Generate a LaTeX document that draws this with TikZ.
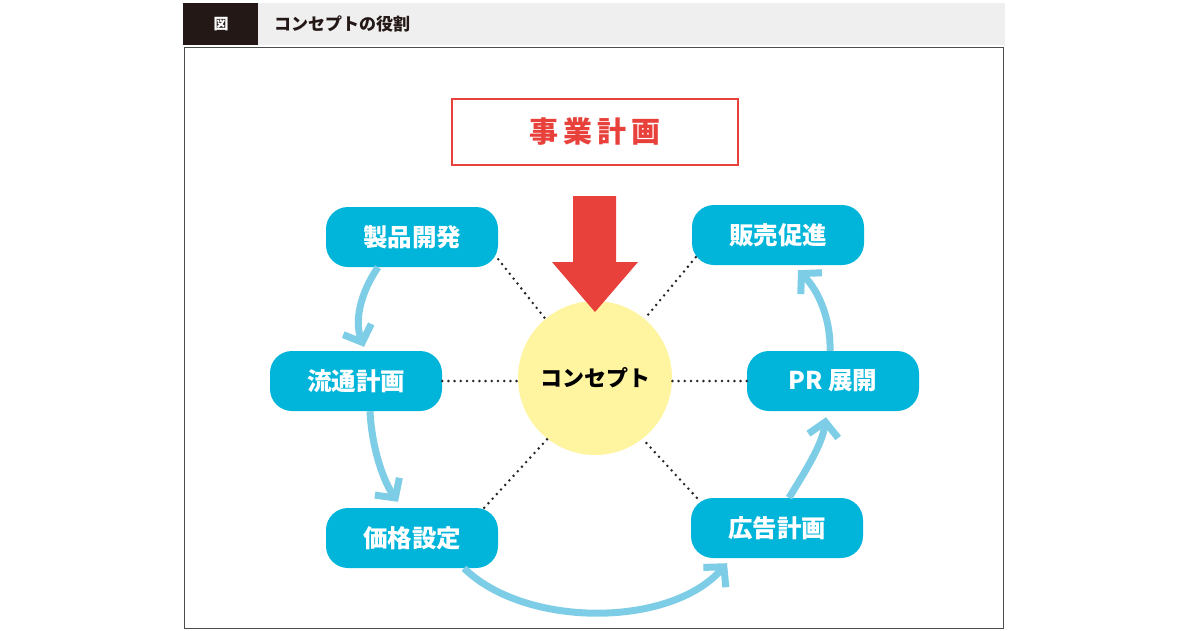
\documentclass[tikz,border=0pt]{standalone}
\usepackage{fontspec}
\newfontfamily\cjk{Noto Sans CJK JP}
\usetikzlibrary{arrows.meta}
\definecolor{cyanbox}{HTML}{00B5D9}
\definecolor{flowblue}{HTML}{7ECDE7}
\definecolor{concept}{HTML}{FFF5A0}
\definecolor{redc}{HTML}{E8403A}
\definecolor{headgray}{HTML}{EFEFEF}
\definecolor{headdark}{HTML}{231815}
\tikzset{
  stepbox/.style={draw=none, fill=cyanbox, rounded corners=22pt, minimum width=172pt, minimum height=60pt,
    text=white, font=\cjk\bfseries\fontsize{24.5}{28}\selectfont, inner sep=0pt},
  flow/.style={draw=flowblue, line width=7pt, -{Straight Barb[length=14pt,width=30pt,line width=7pt]}},
  dots/.style={draw=black!85, line width=2.8pt, line cap=round, dash pattern=on 0pt off 6.2pt}
}
\begin{document}
\begin{tikzpicture}[x=1pt,y=-1pt]
\useasboundingbox (0,0) rectangle (1200,630);
\fill[white] (0,0) rectangle (1200,630);
% header
\fill[headgray] (258,3) rectangle (1005,45);
\fill[headdark] (183,3) rectangle (258,45);
\node[text=white, font=\cjk\bfseries\fontsize{15}{18}\selectfont] (zu) at (221,24) {図};
\node[anchor=west, text=headdark, font=\cjk\bfseries\fontsize{17}{20}\selectfont, inner sep=0pt] (title) at (274,24) {コンセプトの役割};
\draw[gray!60!black, line width=1pt] (184,47) rectangle (1003,628);
% business plan
\node[draw=redc, line width=2pt, minimum width=286pt, minimum height=66pt, text=redc,
  font=\cjk\bfseries\fontsize{29}{34}\selectfont] (plan) at (595,132) {事\,業\,計\,画};
% concept circle
\node[circle, fill=concept, minimum size=154pt, inner sep=0pt, font=\cjk\bfseries\fontsize{22}{26}\selectfont] (core) at (595,378) {コンセプト};
% red arrow
\fill[redc] (573,196) -- (616,196) -- (616,262) -- (638,262) -- (595,312) -- (552,262) -- (573,262) -- cycle;
% boxes
\node[stepbox] (prod) at (412,237) {製品開発};
\node[stepbox] (dist) at (356,381) {流通計画};
\node[stepbox] (price) at (412,538) {価格設定};
\node[stepbox] (sales) at (778,235) {販売促進};
\node[stepbox] (pr) at (833,381) {PR 展開};
\node[stepbox] (ad) at (777,528) {広告計画};
% dotted links
\draw[dots] (prod.south east) ++(0,-8) -- (core.130);
\draw[dots] (dist.east) -- (dist.east -| core.west);
\draw[dots] (price.north east) ++(-14,0) -- (core.232);
\draw[dots] (sales.south west) ++(4,-8) -- (core.50);
\draw[dots] (pr.west) -- (pr.west -| core.east);
\draw[dots] (ad.north west) ++(6,0) -- (core.308);
% flow arrows
\draw[flow] ([xshift=-34pt]prod.south) .. controls (356,300) and (356,326) .. ([xshift=8pt,yshift=4pt]dist.north);
\draw[flow] ([xshift=14pt]dist.south) .. controls (372,450) and (384,482) .. ([xshift=-14pt,yshift=6pt]price.north);
\draw[flow] ([xshift=52pt]price.south) .. controls (525,628) and (670,628) .. ([xshift=-50pt,yshift=-5pt]ad.south);
\draw[flow] ([xshift=12pt]ad.north) .. controls (806,470) and (822,445) .. ([xshift=-7pt,yshift=-6pt]pr.south);
\draw[flow] ([xshift=-3pt]pr.north) .. controls (831,322) and (820,292) .. ([xshift=20pt,yshift=-5pt]sales.south);
\end{tikzpicture}
\end{document}
